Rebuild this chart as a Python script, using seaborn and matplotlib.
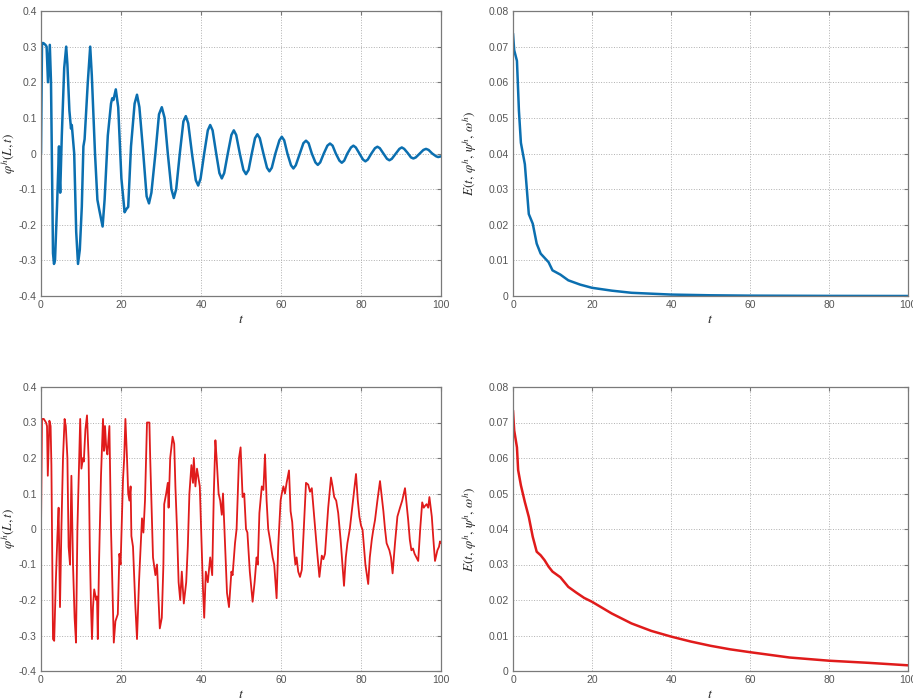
import numpy as np
import pandas as pd
import seaborn as sns
import matplotlib
matplotlib.use("Agg")
import matplotlib.pyplot as plt
from matplotlib.ticker import FuncFormatter

# blue run: phi^h(L,t)
blue_t = [0, 0.25, 0.6, 1.1, 1.4, 1.75, 2.2, 2.5, 3.0, 3.25, 3.5, 4.0, 4.5, 4.6, 4.8, 5.2, 5.8,
          6.3, 6.6, 7.1, 7.5, 7.7, 8.3, 8.8, 9.25, 9.7, 10.2, 10.6, 10.9, 11.7, 12.3, 12.7,
          13.5, 14.1, 14.6, 15.4, 15.9, 16.7, 17.5, 17.8, 18.1, 18.7, 19.3, 20.1, 20.9, 21.4,
          21.8, 22.5, 23.4, 24.0, 24.6, 25.5, 26.4, 27.0, 27.6, 28.6, 29.5, 30.2, 30.9, 31.7,
          32.6, 33.2, 33.8, 34.7, 35.6, 36.2, 36.8, 37.8, 38.7, 39.3, 39.9, 40.8, 41.7, 42.3,
          42.9, 43.8, 44.6, 45.2, 45.8, 46.7, 47.6, 48.2, 48.8, 49.7, 50.6, 51.25, 51.9, 52.7,
          53.5, 54.1, 54.7, 55.6, 56.5, 57.1, 57.7, 58.6, 59.6, 60.2, 60.8, 61.6, 62.5, 63.1,
          63.7, 64.7, 65.6, 66.25, 66.9, 67.7, 68.6, 69.2, 69.8, 70.7, 71.6, 72.25, 72.9, 73.7,
          74.6, 75.2, 75.8, 76.6, 77.5, 78.1, 78.7, 79.6, 80.5, 81.1, 81.7, 82.6, 83.5, 84.1,
          84.7, 85.6, 86.5, 87.1, 87.7, 88.7, 89.6, 90.2, 90.8, 91.7, 92.5, 93.1, 93.7, 94.7,
          95.6, 96.25, 96.9, 97.8, 98.8, 99.3, 100]
blue_phi = [0.0, 0.31, 0.31, 0.305, 0.30, 0.20, 0.305, 0.20, -0.28, -0.31, -0.30, -0.15, 0.02,
            -0.06, -0.11, 0.05, 0.24, 0.30, 0.25, 0.12, 0.07, 0.08, 0.0, -0.22, -0.31, -0.27,
            -0.15, 0.02, 0.04, 0.20, 0.30, 0.22, 0.0, -0.13, -0.16, -0.205, -0.13, 0.05, 0.14,
            0.155, 0.15, 0.18, 0.13, -0.07, -0.165, -0.155, -0.15, 0.02, 0.14, 0.165, 0.13, 0.01,
            -0.12, -0.14, -0.11, 0.0, 0.11, 0.13, 0.10, 0.0, -0.10, -0.125, -0.10, 0.0, 0.09,
            0.105, 0.085, -0.005, -0.075, -0.09, -0.07, 0.0, 0.065, 0.08, 0.065, 0.0, -0.055,
            -0.07, -0.055, 0.0, 0.052, 0.065, 0.052, 0.0, -0.046, -0.058, -0.046, 0.0, 0.043,
            0.054, 0.043, 0.0, -0.04, -0.05, -0.04, 0.0, 0.037, 0.047, 0.037, 0.0, -0.033,
            -0.042, -0.033, 0.0, 0.029, 0.036, 0.029, 0.0, -0.025, -0.032, -0.025, 0.0, 0.022,
            0.028, 0.022, 0.0, -0.02, -0.026, -0.02, 0.0, 0.017, 0.022, 0.017, 0.0, -0.017,
            -0.022, -0.017, 0.0, 0.015, 0.019, 0.015, 0.0, -0.015, -0.019, -0.015, 0.0, 0.013,
            0.017, 0.013, 0.001, -0.011, -0.014, -0.011, 0.0, 0.01, 0.013, 0.01, 0.0, -0.008,
            -0.010, -0.008]

# red run: phi^h(L,t)
red_t = [0, 0.25, 0.7, 1.25, 1.5, 1.7, 2.1, 2.4, 2.6, 3.0, 3.3, 3.7, 4.1, 4.4, 4.75, 5.1, 5.5,
         5.9, 6.2, 6.6, 6.9, 7.25, 7.6, 8.0, 8.4, 8.75, 9.1, 9.8, 10.1, 10.5, 10.7, 11.1, 11.5,
         11.9, 12.2, 12.5, 12.75, 13.0, 13.3, 13.8, 14.0, 14.2, 14.5, 15.0, 15.5, 15.75, 16.0,
         16.3, 16.6, 17.1, 17.5, 18.2, 18.6, 19.2, 19.6, 19.9, 20.5, 20.8, 21.1, 21.5, 21.8,
         22.1, 22.4, 22.6, 23.0, 23.6, 24.0, 24.5, 24.7, 25.25, 25.6, 26.0, 26.5, 27.1, 27.3,
         28.0, 28.6, 29.0, 29.7, 30.2, 30.6, 30.8, 31.3, 31.7, 31.9, 32.3, 32.9, 33.3, 33.6,
         34.0, 34.4, 34.8, 35.2, 35.7, 36.3, 36.7, 37.1, 37.6, 38.0, 38.2, 38.6, 39.0, 39.7,
         40.5, 40.8, 41.2, 41.7, 42.3, 42.8, 43.2, 43.6, 43.9, 44.4, 44.8, 45.2, 45.5, 46.5,
         47.0, 47.6, 47.9, 48.5, 48.9, 49.5, 49.9, 50.4, 50.8, 51.25, 51.6, 52.2, 52.9, 53.4,
         53.9, 54.2, 54.6, 55.2, 55.6, 56.0, 56.4, 56.8, 57.25, 57.9, 58.3, 58.9, 59.3, 59.9,
         60.2, 60.6, 61.0, 61.4, 62.0, 62.4, 62.8, 63.25, 63.6, 63.9, 64.3, 64.75, 65.2, 65.7,
         66.25, 66.8, 67.25, 67.7, 68.1, 68.5, 69.0, 69.6, 70.2, 70.6, 71.0, 71.8, 72.5, 72.9,
         73.3, 73.8, 74.3, 74.9, 75.75, 76.2, 76.6, 77.2, 77.7, 78.2, 78.75, 79.2, 79.6, 80.0,
         80.4, 81.1, 81.8, 82.2, 82.7, 83.1, 83.5, 84.1, 84.75, 85.2, 85.6, 86.0, 86.4, 87.1,
         87.5, 87.9, 88.5, 89.1, 89.75, 90.3, 91.0, 91.4, 91.8, 92.2, 92.6, 93.0, 93.4, 94.3,
         94.8, 95.3, 95.7, 96.0, 96.4, 96.8, 97.1, 97.7, 98.1, 98.5, 99.1, 99.5, 99.75, 100]
red_phi = [0.0, 0.31, 0.31, 0.30, 0.29, 0.15, 0.305, 0.29, 0.18, -0.31, -0.315, -0.15, -0.02,
           0.06, -0.22, 0.0, 0.2, 0.31, 0.29, 0.2, -0.05, -0.1, 0.15, -0.1, -0.25, -0.32, 0.0,
           0.31, 0.17, 0.2, 0.19, 0.28, 0.32, 0.2, -0.05, -0.22, -0.31, -0.22, -0.17, -0.2,
           -0.19, -0.31, -0.1, 0.15, 0.31, 0.22, 0.29, 0.23, 0.21, 0.29, 0.0, -0.32, -0.26,
           -0.24, -0.07, -0.1, 0.14, 0.2, 0.31, 0.2, 0.1, 0.08, 0.12, -0.02, -0.05, -0.22,
           -0.31, -0.15, -0.1, 0.03, -0.01, 0.08, 0.30, 0.30, 0.2, -0.08, -0.13, -0.1, -0.28,
           -0.25, -0.1, 0.07, 0.1, 0.13, 0.06, 0.2, 0.26, 0.24, 0.12, 0.0, -0.15, -0.2, -0.12,
           -0.21, -0.15, -0.05, 0.1, 0.18, 0.13, 0.2, 0.12, 0.17, 0.12, -0.17, -0.25, -0.12,
           -0.15, -0.08, -0.13, 0.1, 0.25, 0.2, 0.1, 0.08, 0.04, 0.1, -0.18, -0.22, -0.12,
           -0.13, -0.04, 0.0, 0.2, 0.23, 0.09, 0.1, 0.0, -0.01, -0.12, -0.205, -0.15, -0.08,
           -0.1, 0.045, 0.12, 0.11, 0.21, 0.08, 0.0, -0.03, -0.08, -0.1, -0.195, -0.05, 0.08,
           0.1, 0.12, 0.1, 0.13, 0.165, 0.05, 0.02, -0.06, -0.1, -0.08, -0.12, -0.135, -0.115,
           0.0, 0.13, 0.125, 0.105, 0.115, 0.06, 0.005, -0.06, -0.135, -0.075, -0.085, -0.07,
           0.06, 0.145, 0.12, 0.09, 0.08, 0.045, -0.03, -0.16, -0.08, -0.04, 0.0, 0.05, 0.1,
           0.155, 0.08, 0.035, 0.01, -0.003, -0.1, -0.155, -0.08, -0.03, 0.0, 0.025, 0.08,
           0.135, 0.09, 0.05, 0.0, -0.04, -0.06, -0.08, -0.125, -0.04, 0.035, 0.06, 0.08, 0.115,
           0.07, 0.025, -0.03, -0.06, -0.055, -0.07, -0.09, 0.0, 0.075, 0.06, 0.065, 0.07, 0.06,
           0.09, 0.035, -0.03, -0.09, -0.06, -0.05, -0.035, -0.04]

# energies
blue_e_t = [0, 0.3, 1, 1.5, 2, 3, 4, 5, 6, 7, 8, 9, 10, 12, 14, 17, 20, 25, 30, 40, 50, 60, 80, 100]
blue_e = [0.0737, 0.069, 0.066, 0.052, 0.043, 0.037, 0.023, 0.0203, 0.0147, 0.0119, 0.0107,
          0.0095, 0.0072, 0.006, 0.0044, 0.0032, 0.0023, 0.0015, 0.0009, 0.0004, 0.0002,
          0.0001, 0.00003, 0.0]
red_e_t = [0, 0.3, 1, 1.3, 2, 3, 4, 5, 6, 7, 8, 9, 10, 12, 14, 16, 18, 20, 25, 30, 35, 40, 45,
           50, 55, 60, 70, 80, 90, 100]
red_e = [0.0734, 0.0678, 0.063, 0.0566, 0.0523, 0.0476, 0.0434, 0.0378, 0.0336, 0.0326, 0.0312,
         0.0294, 0.028, 0.0264, 0.0237, 0.0221, 0.0206, 0.0195, 0.0162, 0.0134, 0.0113, 0.0097,
         0.0083, 0.0071, 0.0061, 0.0053, 0.0038, 0.0029, 0.0023, 0.0016]

blue = "#0b6fb0"
red = "#e01b1b"

sns.set_style("whitegrid")
plt.rcParams["font.family"] = ["Liberation Sans", "DejaVu Sans"]
plt.rcParams["mathtext.fontset"] = "stix"
plt.rcParams["axes.unicode_minus"] = False

fig = plt.figure(figsize=(9.13, 7.0), dpi=100)
W, H = 913, 700
boxes = [(41, 11, 400, 285), (513, 11, 395, 285), (41, 387, 400, 284), (513, 387, 395, 284)]
axs = [fig.add_axes([x / W, 1 - (y + h) / H, w / W, h / H]) for x, y, w, h in boxes]

phi_lab = r"$\varphi^{h}(L,t)$"
e_lab = r"$E(t,\,\varphi^{h},\,\psi^{h},\,\omega^{h})$"

sns.lineplot(x=blue_t, y=blue_phi, ax=axs[0], color=blue, linewidth=1.8)
sns.lineplot(x=blue_e_t, y=blue_e, ax=axs[1], color=blue, linewidth=1.8)
sns.lineplot(x=red_t, y=red_phi, ax=axs[2], color=red, linewidth=1.3)
sns.lineplot(x=red_e_t, y=red_e, ax=axs[3], color=red, linewidth=1.8)


def tick_fmt(v, p):
    v = round(v, 4)
    if abs(v) < 1e-9:
        return "0"
    return "%g" % v


fmt = FuncFormatter(tick_fmt)
for i, ax in enumerate(axs):
    ax.set_xlim(0, 100)
    ax.set_xticks([0, 20, 40, 60, 80, 100])
    if i % 2 == 0:
        ax.set_ylim(-0.4, 0.4)
        ax.set_yticks(np.round(np.arange(-0.4, 0.41, 0.1), 2))
        ax.set_ylabel(phi_lab, fontsize=9.5)
        ax.yaxis.set_label_coords(-0.058, 0.5)
    else:
        ax.set_ylim(0, 0.08)
        ax.set_yticks(np.round(np.arange(0, 0.081, 0.01), 3))
        ax.set_ylabel(e_lab, fontsize=9.5)
        ax.yaxis.set_label_coords(-0.085, 0.5)
    ax.xaxis.set_major_formatter(fmt)
    ax.yaxis.set_major_formatter(fmt)
    ax.set_xlabel(r"$t$", fontsize=10, labelpad=1)
    ax.grid(True, linestyle=":", color="#b0b0b0", linewidth=0.7)
    ax.tick_params(direction="in", length=3, labelsize=7.5, labelcolor="#555555",
                   color="#777777", top=True, right=True, pad=3)
    for s in ax.spines.values():
        s.set_color("#7a7a7a")
        s.set_linewidth(0.9)

fig.savefig("out.png", dpi=100)
